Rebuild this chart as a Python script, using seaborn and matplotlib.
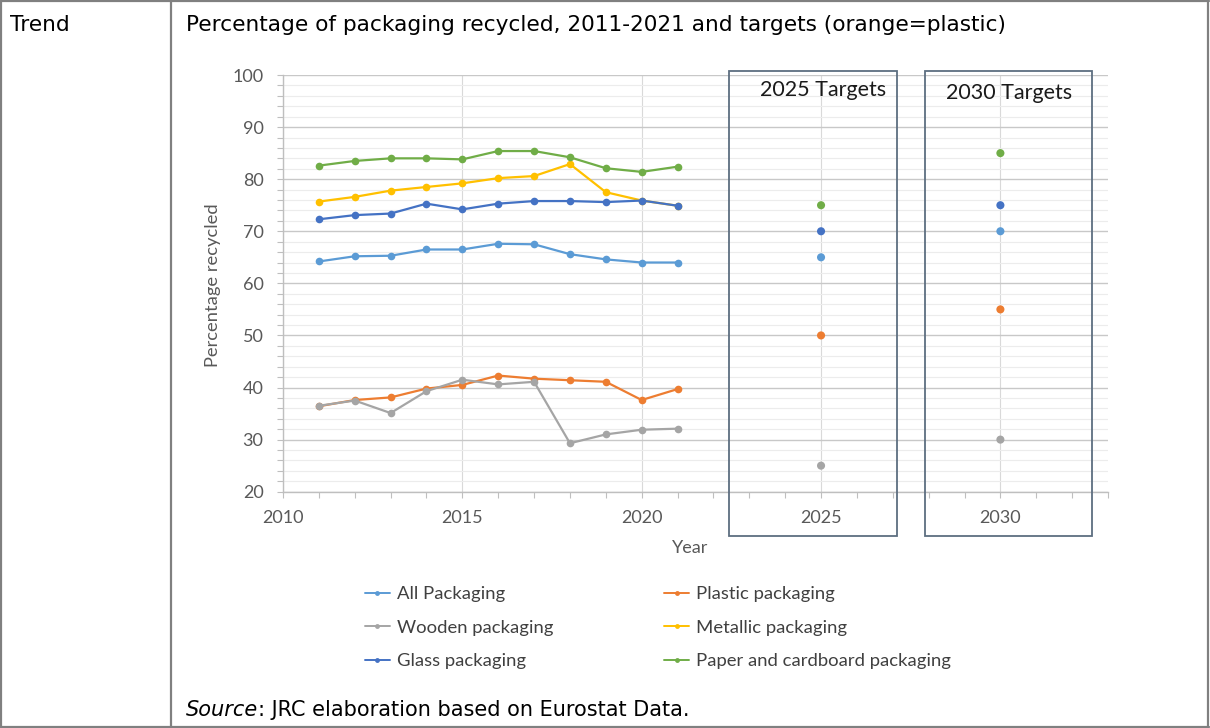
import matplotlib
matplotlib.use("Agg")
import matplotlib.pyplot as plt
from matplotlib.lines import Line2D
from matplotlib.patches import Rectangle
from matplotlib.ticker import MultipleLocator, FixedLocator
import seaborn as sns
import pandas as pd

# ---- data -------------------------------------------------------------
years = [2011, 2012, 2013, 2014, 2015, 2016, 2017, 2018, 2019, 2020, 2021]

series_names = ["All Packaging", "Plastic packaging", "Wooden packaging",
                "Metallic packaging", "Glass packaging",
                "Paper and cardboard packaging"]

all_packaging = [64.2, 65.2, 65.3, 66.5, 66.5, 67.6, 67.5, 65.6, 64.6, 64.0, 64.0]
plastic = [36.4, 37.6, 38.1, 39.8, 40.5, 42.3, 41.7, 41.4, 41.1, 37.6, 39.7]
wooden = [36.5, 37.5, 35.1, 39.3, 41.5, 40.6, 41.1, 29.3, 31.0, 31.9, 32.1]
metallic = [75.7, 76.6, 77.8, 78.5, 79.2, 80.2, 80.6, 82.9, 77.5, 75.9, 74.9]
glass = [72.3, 73.1, 73.4, 75.3, 74.2, 75.3, 75.8, 75.8, 75.6, 75.9, 74.9]
paper = [82.6, 83.5, 84.0, 84.0, 83.8, 85.4, 85.4, 84.2, 82.1, 81.4, 82.4]

target_years = [2025, 2030]
target_series = ["All Packaging", "Plastic packaging", "Wooden packaging",
                 "Glass packaging", "Paper and cardboard packaging"]
target_all = [65, 70]
target_plastic = [50, 55]
target_wooden = [25, 30]
target_glass = [70, 75]
target_paper = [75, 85]

colors = ["#5B9BD5", "#ED7D31", "#A5A5A5", "#FFC000", "#4472C4", "#70AD47"]
palette = dict(zip(series_names, colors))

# ---- tidy frames ---------------------------------------------------------
values = [all_packaging, plastic, wooden, metallic, glass, paper]
hist = pd.DataFrame(
    [(y, name, v) for name, vals in zip(series_names, values)
     for y, v in zip(years, vals)],
    columns=["Year", "Series", "Value"])

tvalues = [target_all, target_plastic, target_wooden, target_glass, target_paper]
targets = pd.DataFrame(
    [(y, name, v) for name, vals in zip(target_series, tvalues)
     for y, v in zip(target_years, vals)],
    columns=["Year", "Series", "Value"])

# ---- figure ------------------------------------------------------------
sns.set_theme(style="white")
plt.rcParams["font.family"] = ["Lato", "DejaVu Sans"]

W, H = 1210, 728
fig = plt.figure(figsize=(W / 100, H / 100), dpi=100)

def fx(px):
    return px / W

def fy(py):
    return 1 - py / H

left, right, top, bottom = 283, 1108, 75, 491.7
ax = fig.add_axes([fx(left), fy(bottom), fx(right - left), (bottom - top) / H])

sns.lineplot(data=hist, x="Year", y="Value", hue="Series",
             hue_order=series_names, palette=palette, marker="o",
             markersize=5.5, markeredgewidth=0, linewidth=1.6,
             legend=False, ax=ax, zorder=3)
sns.scatterplot(data=targets, x="Year", y="Value", hue="Series",
                hue_order=series_names, palette=palette, s=34,
                linewidth=0, legend=False, ax=ax, zorder=3)

ax.set_xlim(2010, 2033)
ax.set_ylim(20, 100)

# gridlines: major every 10, minor every 2; vertical at 5-year marks
ax.yaxis.set_major_locator(MultipleLocator(10))
ax.yaxis.set_minor_locator(MultipleLocator(2))
ax.xaxis.set_major_locator(FixedLocator([2010, 2015, 2020, 2025, 2030]))
ax.xaxis.set_minor_locator(MultipleLocator(1))
ax.grid(axis="y", which="major", color="#c8c8c8", linewidth=1.0, zorder=0)
ax.grid(axis="y", which="minor", color="#ececec", linewidth=0.8, zorder=0)
ax.grid(axis="x", which="major", color="#d9d9d9", linewidth=0.8, zorder=0)
ax.set_axisbelow(True)

for s in ["top", "right"]:
    ax.spines[s].set_visible(False)
for s in ["left", "bottom"]:
    ax.spines[s].set_color("#bfbfbf")
    ax.spines[s].set_linewidth(1.0)

ax.tick_params(axis="both", which="both", direction="out", color="#bfbfbf",
               length=4, width=0.8, left=True, bottom=True)
ax.tick_params(axis="x", which="major", labelsize=13, labelcolor="#595959", pad=9)
ax.tick_params(axis="y", which="major", labelsize=13, labelcolor="#595959", pad=10)
ax.set_xlabel("")
ax.set_ylabel("")

fig.text(fx(213), fy(285), "Percentage recycled", rotation=90,
         ha="center", va="center", fontsize=13.2, color="#595959")
fig.text(fx(690), fy(548), "Year", ha="center", va="center",
         fontsize=13, color="#595959")

# target boxes
box_color = "#5d6e80"
for x0, x1, label, tx, ty in [(2022.43, 2027.12, "2025 Targets", 2025.05, 97.1),
                              (2027.90, 2032.55, "2030 Targets", 2030.23, 96.6)]:
    ax.add_patch(Rectangle((x0, 11.5), x1 - x0, 89.3, fill=False,
                           edgecolor=box_color, linewidth=1.3,
                           clip_on=False, zorder=5))
    ax.text(tx, ty, label, ha="center", va="center",
            fontsize=15.5, color="#1a1a1a", zorder=6)

# legend, two columns
order = ["All Packaging", "Wooden packaging", "Glass packaging",
         "Plastic packaging", "Metallic packaging",
         "Paper and cardboard packaging"]
handles = [Line2D([0], [0], color=palette[n], marker="o", markersize=3.5,
                  markeredgewidth=0, linewidth=1.4) for n in order]
fig.legend(handles, order, loc="upper left",
           bbox_to_anchor=(fx(365), fy(586)), ncol=2, frameon=False,
           fontsize=13.3, labelcolor="#404040", handlelength=1.35,
           handletextpad=0.38, labelspacing=0.95, columnspacing=6.0,
           borderaxespad=0, borderpad=0)

# ---- surrounding table frame and captions -------------------------------
border = "#808080"
for xs, ys in [((1, 1209), (1, 1)), ((1, 1209), (727, 727)),
               ((1, 1), (1, 727)), ((1208, 1208), (1, 727)),
               ((171, 171), (1, 727))]:
    fig.add_artist(Line2D([fx(xs[0]), fx(xs[1])], [fy(ys[0]), fy(ys[1])],
                          color=border, linewidth=1.6))

table_font = ["DejaVu Sans"]
fig.text(fx(10), fy(25), "Trend", ha="left", va="center", fontsize=15.6,
         color="#000000", family=table_font)
fig.text(fx(186), fy(25),
         "Percentage of packaging recycled, 2011-2021 and targets (orange=plastic)",
         ha="left", va="center", fontsize=15.6, color="#000000", family=table_font)
src_label = fig.text(fx(186), fy(710), "Source", ha="left", va="center",
                     fontsize=15, style="italic", color="#000000",
                     family=table_font)
fig.canvas.draw()
src_end = src_label.get_window_extent().x1
fig.text(src_end / W, fy(710), ": JRC elaboration based on Eurostat Data.",
         ha="left", va="center", fontsize=15, color="#000000",
         family=table_font)

fig.savefig("out.png", dpi=100)
